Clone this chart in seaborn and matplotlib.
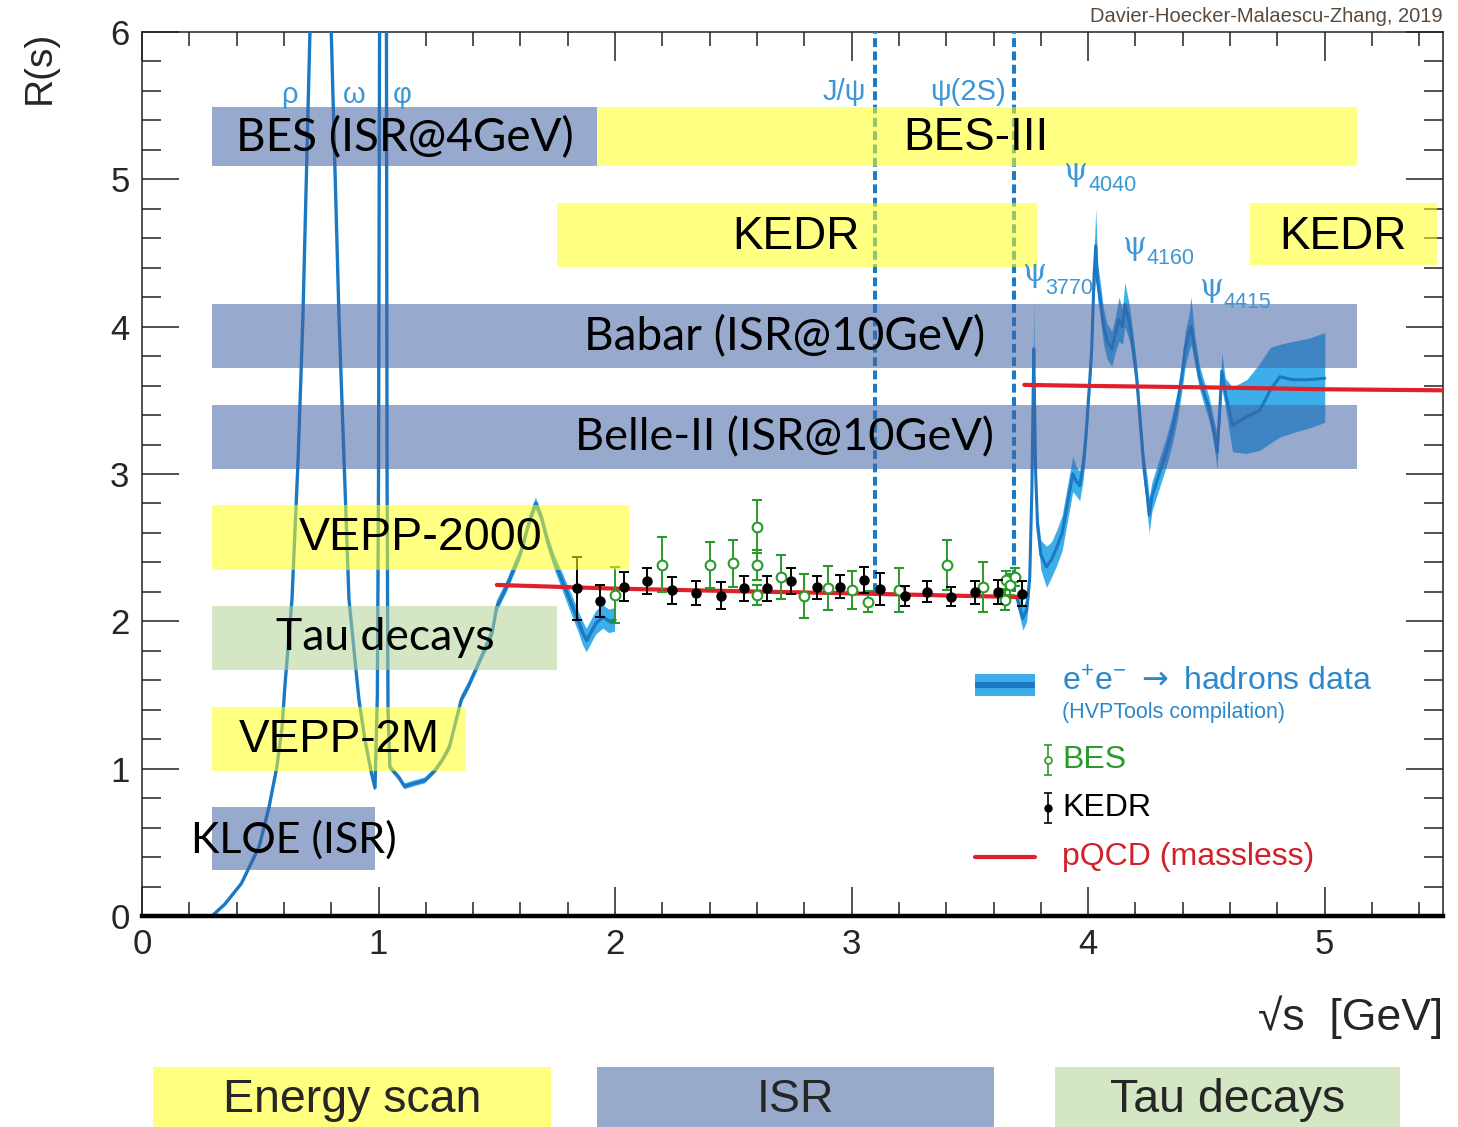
import numpy as np
import pandas as pd
import matplotlib
matplotlib.use("Agg")
import matplotlib.pyplot as plt
import seaborn as sns
from matplotlib.patches import Rectangle
from matplotlib.ticker import MultipleLocator
from matplotlib import font_manager

# ---------------- data ----------------
# e+e- -> hadrons compilation, low-energy part (central value and half-width of band)
seg1_x = [0.296, 0.35, 0.42, 0.495, 0.537, 0.57, 0.592, 0.605, 0.62, 0.634, 0.66, 0.68,
          0.71, 0.74, 0.765, 0.775, 0.780, 0.783, 0.786, 0.79, 0.80, 0.833, 0.875, 0.917,
          0.942, 0.97, 0.985, 0.995, 1.0, 1.005, 1.019, 1.033, 1.036, 1.04, 1.048, 1.07,
          1.086, 1.11, 1.15, 1.196, 1.24, 1.27, 1.30, 1.35, 1.38, 1.43, 1.48, 1.50, 1.54,
          1.60, 1.64, 1.665, 1.69, 1.71, 1.74, 1.78, 1.82, 1.845, 1.864, 1.88, 1.90, 1.92,
          1.95, 1.975, 2.0]
seg1_R = [0.0, 0.08, 0.22, 0.47, 0.74, 1.01, 1.28, 1.58, 1.87, 2.15, 3.1, 4.05,
          6.0, 8.5, 10.8, 11.5, 10.0, 14.0, 10.5, 9.0, 6.0, 4.05, 2.15, 1.47,
          1.2, 0.97, 0.87, 1.5, 3.0, 6.5, 45.0, 6.5, 3.0, 1.4, 1.01, 0.97,
          0.94, 0.88, 0.9, 0.92, 0.99, 1.06, 1.15, 1.47, 1.56, 1.74, 1.92, 2.10, 2.23,
          2.46, 2.69, 2.80, 2.70, 2.57, 2.42, 2.26, 2.10, 2.0, 1.92, 1.87, 1.93, 1.99,
          2.03, 2.0, 2.01]
seg1_err = [0.01, 0.01, 0.01, 0.02, 0.02, 0.02, 0.02, 0.02, 0.02, 0.02, 0.03, 0.03,
            0.05, 0.05, 0.05, 0.05, 0.05, 0.05, 0.05, 0.05, 0.05, 0.03, 0.03, 0.02,
            0.02, 0.02, 0.02, 0.03, 0.03, 0.05, 0.05, 0.05, 0.03, 0.03, 0.02, 0.02,
            0.02, 0.02, 0.02, 0.02, 0.02, 0.02, 0.03, 0.03, 0.03, 0.03, 0.04, 0.04, 0.04,
            0.04, 0.04, 0.04, 0.04, 0.05, 0.05, 0.06, 0.07, 0.07, 0.08, 0.08, 0.08, 0.08,
            0.08, 0.08, 0.08]

# charm region
seg2_x = [3.700, 3.724, 3.740, 3.753, 3.762, 3.767, 3.770, 3.773, 3.778, 3.786, 3.800,
          3.824, 3.845, 3.867, 3.890, 3.910, 3.935, 3.950, 3.964, 3.978, 3.990, 4.005,
          4.015, 4.025, 4.032, 4.040, 4.050, 4.065, 4.080, 4.100, 4.115, 4.130, 4.145,
          4.155, 4.175, 4.190, 4.205, 4.220, 4.235, 4.250, 4.258, 4.270, 4.290, 4.310,
          4.330, 4.355, 4.375, 4.395, 4.410, 4.425, 4.435, 4.450, 4.470, 4.490, 4.510,
          4.530, 4.545, 4.555, 4.565, 4.580, 4.610, 4.670, 4.725, 4.770, 4.810, 4.865,
          4.930, 5.000]
seg2_R = [2.15, 2.02, 2.08, 2.30, 2.90, 3.50, 3.85, 3.50, 3.00, 2.65, 2.45,
          2.37, 2.42, 2.50, 2.60, 2.78, 3.00, 2.95, 2.92, 3.05, 3.25, 3.60,
          3.85, 4.35, 4.55, 4.30, 4.20, 4.00, 3.90, 3.85, 3.95, 4.05, 4.00,
          4.15, 4.02, 3.85, 3.65, 3.35, 3.05, 2.85, 2.72, 2.85, 2.95, 3.05,
          3.15, 3.30, 3.45, 3.65, 3.85, 3.95, 4.00, 3.85, 3.66, 3.55, 3.45,
          3.30, 3.15, 3.40, 3.70, 3.55, 3.33, 3.39, 3.43, 3.57, 3.66, 3.64,
          3.64, 3.65]
seg2_err_dn = [0.05, 0.08, 0.08, 0.08, 0.10, 0.15, 0.30, 0.15, 0.10, 0.08, 0.10,
               0.14, 0.12, 0.12, 0.12, 0.12, 0.12, 0.10, 0.10, 0.10, 0.10, 0.10,
               0.10, 0.15, 0.20, 0.12, 0.12, 0.12, 0.12, 0.12, 0.12, 0.15, 0.12,
               0.15, 0.12, 0.10, 0.10, 0.10, 0.10, 0.12, 0.12, 0.10, 0.10, 0.10,
               0.10, 0.10, 0.10, 0.10, 0.12, 0.12, 0.12, 0.10, 0.08, 0.08, 0.08,
               0.08, 0.12, 0.10, 0.12, 0.10, 0.18, 0.25, 0.27, 0.36, 0.41, 0.36,
               0.33, 0.30]
seg2_err_up = [0.05, 0.08, 0.08, 0.08, 0.10, 0.15, 0.33, 0.15, 0.10, 0.08, 0.10,
               0.14, 0.12, 0.12, 0.12, 0.12, 0.12, 0.10, 0.10, 0.10, 0.10, 0.10,
               0.10, 0.15, 0.25, 0.12, 0.12, 0.12, 0.12, 0.12, 0.12, 0.15, 0.12,
               0.15, 0.12, 0.10, 0.10, 0.10, 0.10, 0.12, 0.12, 0.10, 0.10, 0.10,
               0.10, 0.10, 0.10, 0.10, 0.12, 0.12, 0.20, 0.10, 0.08, 0.08, 0.08,
               0.08, 0.12, 0.10, 0.12, 0.10, 0.26, 0.25, 0.32, 0.29, 0.22, 0.26,
               0.28, 0.31]

# KEDR measurements
kedr_x = [1.838, 1.937, 2.039, 2.137, 2.240, 2.341, 2.446, 2.544, 2.644, 2.744,
          2.854, 2.951, 3.051, 3.121, 3.225, 3.318, 3.419, 3.523, 3.619, 3.721]
kedr_R = [2.225, 2.140, 2.236, 2.274, 2.210, 2.195, 2.175, 2.224, 2.224, 2.274,
          2.230, 2.236, 2.281, 2.217, 2.172, 2.202, 2.168, 2.197, 2.202, 2.186]
kedr_err = [0.215, 0.108, 0.100, 0.090, 0.093, 0.081, 0.090, 0.087, 0.084, 0.087,
            0.081, 0.080, 0.090, 0.109, 0.068, 0.070, 0.063, 0.080, 0.081, 0.085]

# BES measurements
bes_x = [2.0, 2.2, 2.4, 2.5, 2.6, 2.6, 2.6, 2.7, 2.8, 2.9, 3.0, 3.07, 3.2,
         3.405, 3.555, 3.648, 3.652, 3.668, 3.69]
bes_R = [2.18, 2.383, 2.383, 2.394, 2.643, 2.383, 2.18, 2.30, 2.17, 2.225, 2.213,
         2.134, 2.213, 2.383, 2.23, 2.145, 2.28, 2.25, 2.30]
bes_err = [0.19, 0.187, 0.156, 0.16, 0.18, 0.10, 0.07, 0.147, 0.15, 0.15, 0.13,
           0.07, 0.15, 0.17, 0.17, 0.07, 0.06, 0.07, 0.06]

# pQCD (massless)
pqcd1_x = [1.5, 2.0, 2.5, 3.0, 3.5, 3.72]
pqcd1_R = [2.247, 2.222, 2.205, 2.19, 2.172, 2.165]
pqcd2_x = [3.73, 4.0, 4.5, 5.0, 5.5]
pqcd2_R = [3.605, 3.598, 3.588, 3.575, 3.568]

# narrow resonances
res_mass = [3.097, 3.686]

# experiment boxes
box_labels = ['BES (ISR@4GeV)', 'BES-III', 'KEDR', 'KEDR', 'Babar (ISR@10GeV)',
              'Belle-II (ISR@10GeV)', 'VEPP-2000', 'Tau decays', 'VEPP-2M', 'KLOE (ISR)']
box_kind = ['ISR', 'scan', 'scan', 'scan', 'ISR', 'ISR', 'scan', 'tau', 'scan', 'ISR']
box_x0 = [0.296, 1.923, 1.754, 4.683, 0.296, 0.296, 0.296, 0.296, 0.296, 0.296]
box_x1 = [1.923, 5.135, 3.783, 5.473, 5.135, 5.135, 2.058, 1.754, 1.369, 0.985]
box_y0 = [5.09, 5.09, 4.406, 4.42, 3.72, 3.035, 2.349, 1.67, 0.984, 0.312]
box_y1 = [5.49, 5.49, 4.84, 4.84, 4.155, 3.47, 2.79, 2.105, 1.419, 0.74]

legend_kinds = ['Energy scan', 'ISR', 'Tau decays']

# ---------------- style ----------------
sns.set_theme(style="white")
avail = {f.name for f in font_manager.fontManager.ttflist}
NARROW = 'Liberation Sans Narrow' if 'Liberation Sans Narrow' in avail else 'Liberation Sans'
HUMAN = 'Lato' if 'Lato' in avail else 'Open Sans'
plt.rcParams['font.family'] = ['Liberation Sans', 'DejaVu Sans']
plt.rcParams['mathtext.fontset'] = 'dejavusans'

LINE = '#1B78C2'
BAND = '#3DAEEA'
DASH = '#1A7CC8'
RESC = '#3C97D6'
GREEN = '#2A9A2A'
RED = '#E0202A'
KIND_COL = {'scan': '#FFFF1B', 'ISR': '#4263A2', 'tau': '#B3D296'}
KIND_SOLID = {'Energy scan': '#FFFF80', 'ISR': '#98AACC', 'Tau decays': '#D5E6C5'}
BOX_ALPHA = 0.55

W, H = 1458, 1127
fig = plt.figure(figsize=(W / 100, H / 100), dpi=100)
ax = fig.add_axes([142 / W, 1 - 916 / H, (1443 - 142) / W, (916 - 32) / H])
ax.set_facecolor('white')

# ---------------- curve ----------------
df1 = pd.DataFrame({'x': seg1_x, 'R': seg1_R, 'e': seg1_err})
df2 = pd.DataFrame({'x': seg2_x, 'R': seg2_R, 'dn': seg2_err_dn, 'up': seg2_err_up})
ax.fill_between(df1['x'], df1['R'] - df1['e'], df1['R'] + df1['e'], color=BAND, lw=0, zorder=2)
ax.fill_between(df2['x'], df2['R'] - df2['dn'], df2['R'] + df2['up'], color=BAND, lw=0, zorder=2)
sns.lineplot(data=df1, x='x', y='R', ax=ax, color=LINE, lw=2.4, zorder=3, legend=False)
sns.lineplot(data=df2, x='x', y='R', ax=ax, color=LINE, lw=2.2, zorder=3, legend=False)

# pQCD
sns.lineplot(x=pqcd1_x, y=pqcd1_R, ax=ax, color=RED, lw=3.0, zorder=4)
sns.lineplot(x=pqcd2_x, y=pqcd2_R, ax=ax, color=RED, lw=3.0, zorder=4)

# resonance dashed lines
for m in res_mass:
    ax.plot([m, m], [2.2, 6.0], color=DASH, lw=2.9, ls=(0, (2.2, 1.1)), zorder=3.5)

# data points
ax.errorbar(bes_x, bes_R, yerr=bes_err, fmt='o', ms=7, mfc='white', mec=GREEN, mew=1.5,
            ecolor=GREEN, elinewidth=1.4, capsize=3.5, capthick=1.4, zorder=5)
ax.errorbar(kedr_x, kedr_R, yerr=kedr_err, fmt='o', ms=6.5, color='black',
            elinewidth=1.4, capsize=3.5, capthick=1.4, zorder=5.5)

# experiment boxes (semi-transparent overlay)
for lab, k, x0, x1, y0, y1 in zip(box_labels, box_kind, box_x0, box_x1, box_y0, box_y1):
    ax.add_patch(Rectangle((x0, y0), x1 - x0, y1 - y0, facecolor=KIND_COL[k],
                           alpha=BOX_ALPHA, lw=0, zorder=6))

label_x = [1.11, 3.525, 2.765, 5.077, 2.718, 2.718, 1.18, 1.027, 0.833, 0.642]
label_y = [5.28, 5.28, 4.61, 4.61, 3.93, 3.245, 2.566, 1.887, 1.195, 0.516]
label_font = [HUMAN, 'Liberation Sans', 'Liberation Sans', 'Liberation Sans', HUMAN,
              HUMAN, 'Liberation Sans', HUMAN, 'Liberation Sans', HUMAN]
label_size = [33, 33, 33, 33, 33, 32.5, 33.5, 32, 33, 31]
for lab, lx, ly, fnt, fs in zip(box_labels, label_x, label_y, label_font, label_size):
    ax.text(lx, ly, lab, ha='center', va='center', fontsize=fs, color='black',
            family=[fnt, 'DejaVu Sans'], zorder=8, clip_on=False)

# resonance labels
for t, x in zip(['ρ', 'ω', 'φ'], [0.625, 0.896, 1.10]):
    ax.text(x, 5.57, t, ha='center', va='center', fontsize=21, color=RESC, zorder=8)
ax.text(2.97, 5.59, 'J/ψ', ha='center', va='center', fontsize=21, color=RESC, zorder=8)
ax.text(3.49, 5.59, 'ψ(2S)', ha='center', va='center', fontsize=21, color=RESC, zorder=8)
psi_pos = [(3.77, 4.37, 3.82, 4.257, '3770'), (3.943, 5.05, 4.0, 4.956, '4040'),
           (4.193, 4.548, 4.248, 4.46, '4160'), (4.518, 4.263, 4.573, 4.162, '4415')]
for px, py, sx, sy, s in psi_pos:
    ax.text(px, py, 'ψ', ha='center', va='center', fontsize=22, color=RESC, zorder=8,
            family=['DejaVu Serif', 'DejaVu Sans'])
    ax.text(sx, sy, s, ha='left', va='center', fontsize=15.5, color=RESC, zorder=8)

# legend (manual)
ax.add_patch(Rectangle((3.52, 1.494), 0.255, 0.149, facecolor=BAND, lw=0, zorder=7))
ax.plot([3.52, 3.775], [1.568, 1.568], color=LINE, lw=4.5, zorder=7.5, solid_capstyle='butt')
ax.text(3.888, 1.582, r'e$^{\mathregular{+}}$e$^{\mathregular{-}}$ $\rightarrow$ hadrons data',
        ha='left', va='center', fontsize=23, color='#2C88CA', zorder=8)
ax.text(3.888, 1.378, '(HVPTools compilation)', ha='left', va='center', fontsize=15.5,
        color='#2C88CA', zorder=8)
ax.errorbar([3.829], [1.059], yerr=[0.1], fmt='o', ms=5, mfc='white', mec=GREEN, mew=1.2,
            ecolor=GREEN, elinewidth=1.2, capsize=3, capthick=1.2, zorder=8, clip_on=False)
ax.text(3.893, 1.059, 'BES', ha='left', va='center', fontsize=23, color=GREEN, zorder=8)
ax.errorbar([3.829], [0.733], yerr=[0.1], fmt='o', ms=5, color='black', elinewidth=1.2,
            capsize=3, capthick=1.2, zorder=8, clip_on=False)
ax.text(3.893, 0.733, 'KEDR', ha='left', va='center', fontsize=23, color='black', zorder=8)
ax.plot([3.52, 3.774], [0.40, 0.40], color=RED, lw=3, zorder=8)
ax.text(3.888, 0.40, 'pQCD (massless)', ha='left', va='center', fontsize=23, color='#D0202A', zorder=8)

# ---------------- axes ----------------
ax.set_xlim(0, 5.5)
ax.set_ylim(0, 6)
ax.set_xlabel('')
ax.set_ylabel('')
ax.xaxis.set_major_locator(MultipleLocator(1))
ax.xaxis.set_minor_locator(MultipleLocator(0.2))
ax.yaxis.set_major_locator(MultipleLocator(1))
ax.yaxis.set_minor_locator(MultipleLocator(0.2))
ax.tick_params(axis='x', which='major', direction='in', length=21, width=1.1, top=True,
               bottom=True, labelsize=25, pad=9, color='#222222')
ax.tick_params(axis='x', which='minor', direction='in', length=10, width=1.1, top=True,
               bottom=True, color='#222222')
ax.tick_params(axis='y', which='major', direction='in', length=26.5, width=1.1, left=True,
               right=True, labelsize=25, pad=9, color='#222222')
ax.tick_params(axis='y', which='minor', direction='in', length=13.5, width=1.1, left=True,
               right=True, color='#222222')
for lab in ax.get_xticklabels() + ax.get_yticklabels():
    lab.set_family([NARROW, 'DejaVu Sans'])
for side in ['left', 'top', 'right']:
    ax.spines[side].set_color('#222222')
    ax.spines[side].set_linewidth(1.1)
ax.spines['bottom'].set_color('black')
ax.spines['bottom'].set_linewidth(3.2)
ax.spines['bottom'].set_zorder(9)

# labels
fig.text(40 / W, 1 - 67 / H, 'R(s)', rotation=90, ha='center', va='center', fontsize=28)
fig.text(1443 / W, 1 - 1017 / H, '√s  [GeV]', ha='right', va='center', fontsize=32,
         family=[NARROW, 'DejaVu Sans'])
fig.text(1443 / W, 1 - 16 / H, 'Davier-Hoecker-Malaescu-Zhang, 2019', ha='right', va='center',
         fontsize=14.5, color='#5A4A3C')

# bottom key boxes
kx0 = [153, 597, 1055]
kx1 = [551, 994, 1400]
for name, a, b in zip(legend_kinds, kx0, kx1):
    fig.patches.append(Rectangle((a / W, 0), (b - a) / W, (1127 - 1067) / H,
                                 transform=fig.transFigure, facecolor=KIND_SOLID[name], lw=0))
    fig.text((a + b) / 2 / W, 1 - 1100 / H, name, ha='center', va='center', fontsize=33.5)

fig.savefig('out.png', dpi=100)
